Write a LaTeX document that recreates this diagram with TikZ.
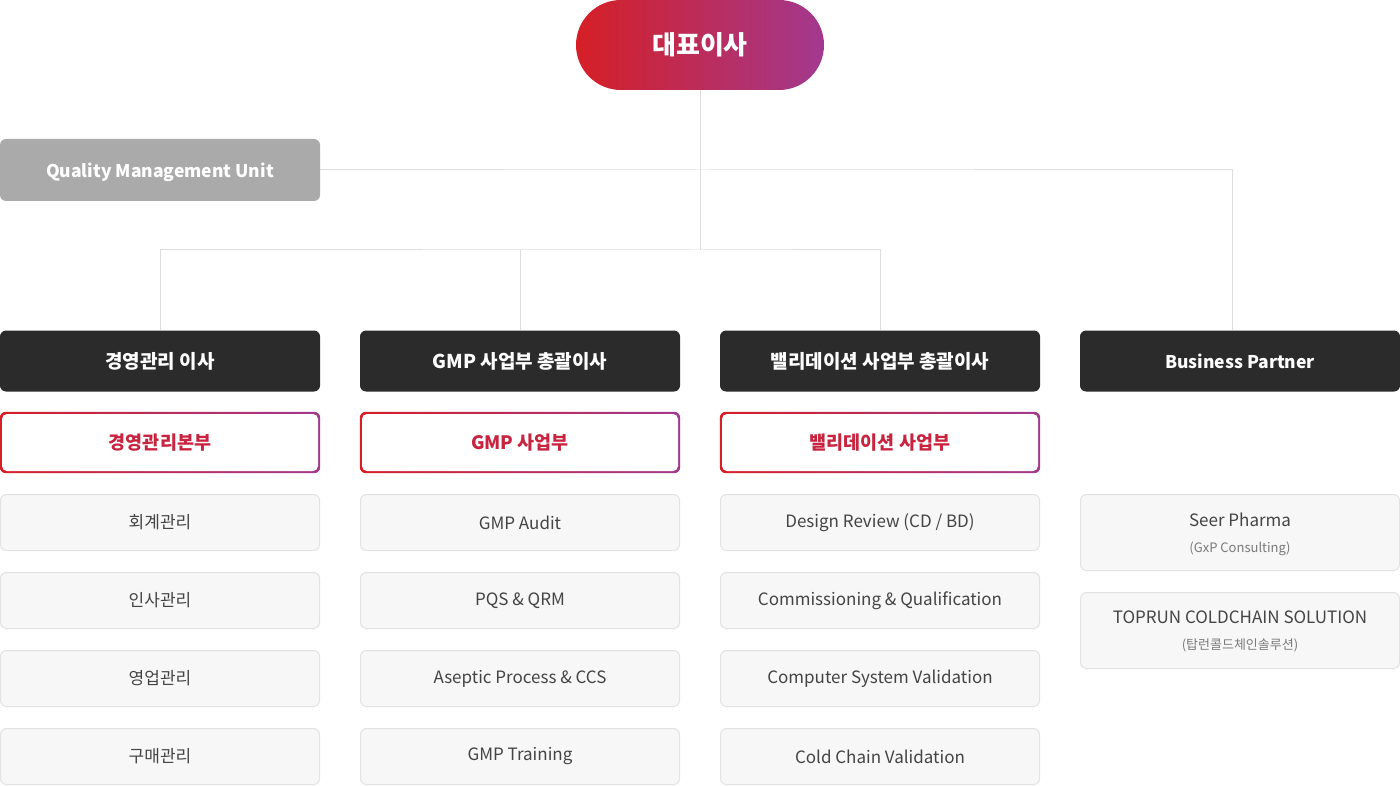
\documentclass[tikz,border=0pt]{standalone}
\usepackage{fontspec}
\setmainfont{Noto Sans CJK KR}
\usetikzlibrary{positioning}
\pgfdeclarelayer{background}
\pgfsetlayers{background,main}

\definecolor{cred}{HTML}{D51F26}
\definecolor{cpurple}{HTML}{A2398F}
\definecolor{cdark}{HTML}{2B2B2B}
\definecolor{cqmu}{HTML}{AAAAAA}
\definecolor{cboxfill}{HTML}{F7F7F7}
\definecolor{cboxline}{HTML}{E2E2E2}
\definecolor{cwire}{HTML}{DDDDDD}
\definecolor{ctext}{HTML}{444444}
\definecolor{csub}{HTML}{7A7A7A}
\definecolor{cdept}{HTML}{C8243F}

\tikzstyle{ceobox}=[rounded corners=45pt, minimum width=248pt, minimum height=90pt, inner sep=0pt, left color=cred, right color=cpurple, text=white, font=\fontsize{26}{30}\selectfont\bfseries]
\tikzstyle{headbox}=[rounded corners=6pt, fill=cdark, minimum width=320pt, minimum height=61pt, inner sep=0pt, text=white, font=\fontsize{19}{23}\selectfont\bfseries]
\tikzstyle{latinhead}=[font=\fontsize{17.5}{21}\selectfont\bfseries]
\tikzstyle{qmubox}=[headbox, latinhead, fill=cqmu, minimum height=62pt, text depth=0pt]
\tikzstyle{deptbox}=[rounded corners=5pt, fill=white, minimum width=316pt, minimum height=57pt, inner sep=0pt, text=cdept, font=\fontsize{18.5}{23}\selectfont\bfseries]
\tikzstyle{itembox}=[rounded corners=6pt, fill=cboxfill, draw=cboxline, line width=1pt, minimum width=319pt, minimum height=56pt, inner sep=0pt, text=ctext, font=\fontsize{17}{21}\selectfont, align=center]
\tikzstyle{partnerbox}=[itembox, minimum height=76pt, text depth=0pt]
\tikzstyle{wire}=[cwire, line width=1pt]
\newcommand{\subline}[1]{{\fontsize{13}{16}\selectfont\color{csub}#1}}

\begin{document}
\begin{tikzpicture}[x=1pt, y=-1pt]
      \useasboundingbox (0,0) rectangle (1400,786);

      \node[ceobox] (ceo) at (700, 45) {대표이사};
      \node[qmubox] (qmu) at (160, 170) {Quality Management Unit};
      \coordinate (hub) at (700, 250);
      \coordinate (side) at (700, 170);

      % directors
      \node[headbox] (mgmt) at (160, 361) {경영관리 이사};
      \node[headbox] (gmp) at (520, 361) {GMP 사업부 총괄이사};
      \node[headbox] (val) at (880, 361) {밸리데이션 사업부 총괄이사};
      \node[headbox, latinhead] (bp) at (1240, 361) {Business Partner};

      % divisions
      \node[deptbox] (mgmtdept) at (160, 442.5) {경영관리본부};
      \node[deptbox] (gmpdept) at (520, 442.5) {GMP 사업부};
      \node[deptbox] (valdept) at (880, 442.5) {밸리데이션 사업부};

      % teams
      \node[itembox] (acct) at (160, 522.5) {회계관리};
      \node[itembox] (hr) at (160, 600.5) {인사관리};
      \node[itembox] (sales) at (160, 678.5) {영업관리};
      \node[itembox] (buy) at (160, 756.5) {구매관리};

      \node[itembox] (audit) at (520, 522.5) {GMP Audit};
      \node[itembox] (pqs) at (520, 600.5) {PQS \& QRM};
      \node[itembox] (aseptic) at (520, 678.5) {Aseptic Process \& CCS};
      \node[itembox] (training) at (520, 756.5) {GMP Training};

      \node[itembox] (review) at (880, 522.5) {Design Review (CD / BD)};
      \node[itembox] (cq) at (880, 600.5) {Commissioning \& Qualification};
      \node[itembox] (csv) at (880, 678.5) {Computer System Validation};
      \node[itembox] (ccv) at (880, 756.5) {Cold Chain Validation};

      \node[partnerbox] (seer) at (1240, 532.5) {Seer Pharma\\[5pt]\subline{(GxP Consulting)}};
      \node[partnerbox] (toprun) at (1240, 630.5) {TOPRUN COLDCHAIN SOLUTION\\[5pt]\subline{(탑런콜드체인솔루션)}};

      \begin{pgfonlayer}{background}
        \foreach \d in {mgmtdept, gmpdept, valdept}
          \shade[rounded corners=6pt, left color=cred, right color=cpurple]
            ([xshift=-2pt, yshift=-2pt]\d.south west) rectangle ([xshift=2pt, yshift=2pt]\d.north east);

        \draw[wire] (ceo.south) -- (hub);
        \draw[wire] (qmu.east) -- (side) -| ([xshift=-8pt]bp.north);
        \draw[wire] (mgmt.north) |- (hub) -| (val.north);
        \draw[wire] (gmp.north) -- (gmp.north |- hub);
      \end{pgfonlayer}
    \end{tikzpicture}
\end{document}
